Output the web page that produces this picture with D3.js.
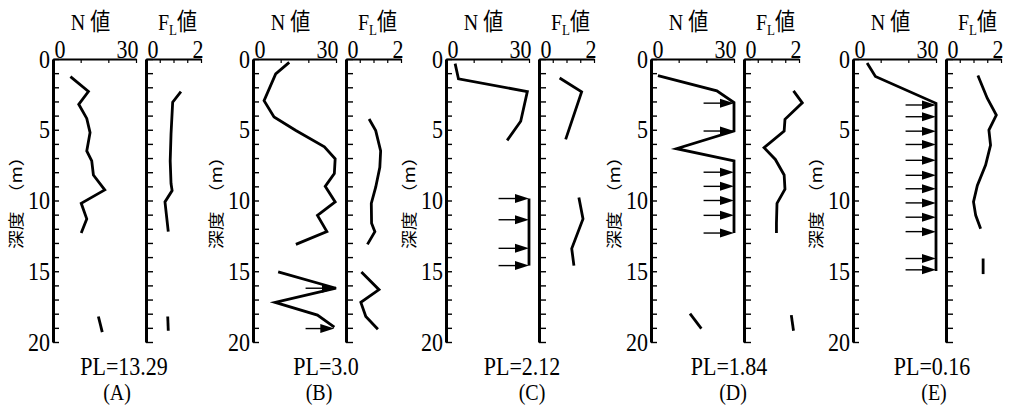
<!DOCTYPE html>
<html>
<head>
<meta charset="utf-8">
<script src="https://cdn.jsdelivr.net/npm/d3@7"></script>
<style>
  body { margin: 0; background: #fff; }
  svg { display: block; }
</style>
</head>
<body>
<div id="chart"></div>
<script>
// ---- data ----
const panelIds = ["A", "B", "C", "D", "E"];
const plValues = ["PL=13.29", "PL=3.0", "PL=2.12", "PL=1.84", "PL=0.16"];
const depthTicks = d3.range(0, 21);
const depthLabels = [0, 5, 10, 15, 20];
const nTicks = [0, 10, 20, 30];
const flTicks = [0, 0.5, 1, 1.5, 2];

// N value profiles: [N, depth(m)] per segment
const nA = [
    [[6.3, 1.25], [12.8, 2.3], [9.3, 3.2], [12.2, 4.2], [13.4, 5.2], [12.2, 6.5], [14, 7.2],
     [14.6, 8.2], [18.7, 9.25], [10.2, 10.2], [12.2, 11.3], [10.2, 12.3]],
    [[16.4, 18.2], [17.8, 19.3]]
];
const nB = [
    [[13.1, 0.24], [8.2, 1.05], [4.0, 2.95], [7.6, 4.1], [15.5, 5.05], [25.8, 6.2], [29.7, 7.05],
     [29.4, 8.1], [26.1, 9.0], [29.7, 10.1], [23.3, 11.05], [26.7, 12.2], [15.5, 13.1]],
    [[9.1, 15.05], [30, 16.2], [8.0, 17.2], [23.3, 18.1], [29.4, 18.95]]
];
const nC = [
    [[3.3, 0.33], [4.5, 1.4], [29.4, 2.3], [27, 4.4], [22.1, 5.75]],
    [[30, 9.86], [30, 14.6]]
];
const nD = [
    [[2.5, 1.18], [23.8, 2.25], [30, 3.08], [30, 5.09], [9.2, 6.34], [30, 7.2], [30, 12.3]],
    [[14.1, 18.0], [18.2, 19.05]]
];
const nE = [
    [[5.1, 0.28], [8.1, 1.23], [30, 3.13], [30, 14.98]]
];

// FL value profiles: [FL, depth(m)]
const flA = [
    [[1.27, 2.3], [0.97, 3.05], [0.91, 5.3], [0.88, 7.2], [0.91, 8.8], [0.95, 9.3], [0.69, 10.1], [0.81, 12.2]],
    [[0.79, 18.2], [0.81, 19.2]]
];
const flB = [
    [[0.84, 4.24], [1.08, 5.06], [1.26, 6.5], [1.23, 7.65], [1.08, 9.06], [0.92, 10.2], [0.93, 11.6],
     [1.05, 12.2], [0.78, 13.1]],
    [[0.56, 15.05], [1.2, 16.3], [0.54, 17.2], [0.72, 18.2], [1.16, 19.1]]
];
const flC = [
    [[0.75, 1.34], [1.55, 2.32], [0.97, 5.68]],
    [[1.45, 9.79], [1.6, 11.3], [1.19, 13.4], [1.27, 14.6]]
];
const flD = [
    [[1.8, 2.25], [2.12, 3.1], [1.49, 4.26], [1.46, 5.09], [0.73, 6.27], [1.14, 7.1], [1.46, 8.2],
     [1.49, 9.2], [1.2, 10.2], [1.18, 11.6], [1.18, 12.3]],
    [[1.72, 18.1], [1.8, 19.2]]
];
const flE = [
    [[1.16, 1.16], [1.5, 2.77], [1.83, 3.96], [1.56, 5.02], [1.62, 6.09], [1.44, 7.5], [1.14, 8.93],
     [1.0, 10.1], [1.08, 11.05], [1.26, 12.0]],
    [[1.35, 14.1], [1.35, 15.2]]
];

// arrows (N > 30 marks): [depth, N at tip]
const arrA = [];
const arrB = [[16.2, 30], [19.05, 29.4]];
const arrC = [[9.86, 30], [11.36, 30], [13.38, 30], [14.6, 30]];
const arrD = [[3.12, 30], [5.09, 30], [8.0, 30], [9.0, 30], [10.0, 30], [11.05, 30], [12.3, 30]];
const arrE = [[3.25, 30], [4.08, 30], [5.1, 30], [6.04, 30], [7.16, 30], [8.22, 30], [9.17, 30],
              [10.17, 30], [11.18, 30], [12.2, 30], [14.1, 30], [14.9, 30]];
const arrowTailN = 19;

const panels = panelIds.map((id, i) => ({
    id: id,
    pl: plValues[i],
    n: [nA, nB, nC, nD, nE][i],
    fl: [flA, flB, flC, flD, flE][i],
    arrows: [arrA, arrB, arrC, arrD, arrE][i]
}));

// ---- layout ----
const W = 1018, H = 414;
const nLeft = [53, 253, 446, 651, 853];
const letterDx = [64, 66, 86, 82, 81];
const plDx = [71, 73, 76, 78, 79];
const nWidth = 83, gap = 10, flWidth = 55;
const yTop = 59, yBottom = 342;
const SERIF = '"Liberation Serif", "Noto Sans CJK JP", serif';
const STRETCH = 1.17;   // the scan's glyphs are a bit taller than wide

const svg = d3.select("#chart").append("svg")
    .attr("width", W)
    .attr("height", H);

const y = d3.scaleLinear().domain([0, 20]).range([yTop, yBottom]);

// plain text placed at (tx, ty) baseline, stretched vertically
function label(g, tx, ty, size, txt) {
    return g.append("text")
        .attr("transform", "translate(" + tx + "," + ty + ") scale(1," + STRETCH + ")")
        .attr("text-anchor", "middle")
        .style("font-size", size + "px")
        .style("font-family", SERIF)
        .text(txt);
}

panels.forEach(function (p, i) {
    let left = nLeft[i];
    let x = d3.scaleLinear().domain([0, 30]).range([left, left + nWidth]);
    let fx = d3.scaleLinear().domain([0, 2]).range([left + nWidth + gap, left + nWidth + gap + flWidth]);

    let g = svg.append("g");

    // depth axis for N plot
    let yAxisN = g.append("g")
        .attr("transform", "translate(" + left + ",0)")
        .call(d3.axisLeft(y).tickValues(depthTicks).tickSize(-6).tickSizeOuter(0).tickPadding(3)
            .tickFormat(d => depthLabels.includes(d) ? d : ""));
    yAxisN.select(".domain").attr("stroke-width", 3);
    yAxisN.selectAll(".tick line").attr("stroke-width", 1.4);
    yAxisN.selectAll("text")
        .attr("transform", "scale(1," + STRETCH + ")")
        .style("font-size", "22px").style("font-family", SERIF);

    // depth axis for FL plot
    let yAxisF = g.append("g")
        .attr("transform", "translate(" + fx(0) + ",0)")
        .call(d3.axisLeft(y).tickValues(depthTicks).tickSize(-7).tickSizeOuter(0).tickFormat(""));
    yAxisF.select(".domain").attr("stroke-width", 3);
    yAxisF.selectAll(".tick line").attr("stroke-width", 1.4);

    // top axes
    function topAxis(scale, ticks) {
        let ax = g.append("g")
            .attr("transform", "translate(0," + yTop + ")")
            .call(d3.axisTop(scale).tickValues(ticks).tickSize(-4).tickSizeOuter(0).tickPadding(1)
                .tickFormat(d => (d === ticks[0] || d === ticks[ticks.length - 1]) ? d : ""));
        ax.select(".domain").attr("stroke-width", 2);
        ax.selectAll(".tick line").attr("stroke-width", 1.2);
        ax.selectAll("text")
            .attr("transform", "scale(1," + STRETCH + ")")
            .style("font-size", "22px")
            .style("font-family", SERIF)
            .attr("text-anchor", d => d === ticks[0] ? "start" : "end")
            .attr("dx", d => d === ticks[0] ? 1 : 2);
    }
    topAxis(x, nTicks);
    topAxis(fx, flTicks);

    // axis titles
    label(g, (x(0) + x(30)) / 2 - 4, 30, 20, "N 値");

    let flTitle = label(g, (fx(0) + fx(2)) / 2 + 4, 30, 20, "");
    flTitle.append("tspan").text("F");
    flTitle.append("tspan").style("font-size", "13px").attr("dy", 4).text("L");
    flTitle.append("tspan").attr("dy", -4).text("値");

    // vertical depth label
    g.append("text")
        .attr("transform", "translate(" + (left - 38) + ",249) rotate(-90) scale(" + STRETCH + ",1)")
        .attr("dominant-baseline", "central")
        .style("font-size", "16px")
        .style("font-family", '"Noto Sans CJK JP", sans-serif')
        .text("深度　（m）");

    // profile lines
    let lineN = d3.line().x(d => x(d[0])).y(d => y(d[1]));
    let lineF = d3.line().x(d => fx(d[0])).y(d => y(d[1]));

    g.selectAll(".nline").data(p.n).enter().append("path")
        .attr("d", lineN)
        .attr("fill", "none")
        .attr("stroke", "#000")
        .attr("stroke-width", 2.8)
        .attr("stroke-linejoin", "miter");

    g.selectAll(".fline").data(p.fl).enter().append("path")
        .attr("d", lineF)
        .attr("fill", "none")
        .attr("stroke", "#000")
        .attr("stroke-width", 2.8);

    // arrows
    let arrows = g.selectAll(".arrow").data(p.arrows).enter().append("g");
    arrows.append("line")
        .attr("x1", d => x(arrowTailN))
        .attr("x2", d => x(d[1]) - 10)
        .attr("y1", d => y(d[0]))
        .attr("y2", d => y(d[0]))
        .attr("stroke", "#000")
        .attr("stroke-width", 1.4);
    arrows.append("path")
        .attr("d", function (d) {
            let tx = x(d[1]), ty = y(d[0]);
            return "M" + tx + "," + ty + "L" + (tx - 14) + "," + (ty - 4.5) + "L" + (tx - 14) + "," + (ty + 4.5) + "Z";
        })
        .attr("fill", "#000");

    // PL value and panel letter
    label(g, left + plDx[i], 375, 22, p.pl);
    label(g, left + letterDx[i], 400, 20, "(" + p.id + ")");
});
</script>
</body>
</html>
